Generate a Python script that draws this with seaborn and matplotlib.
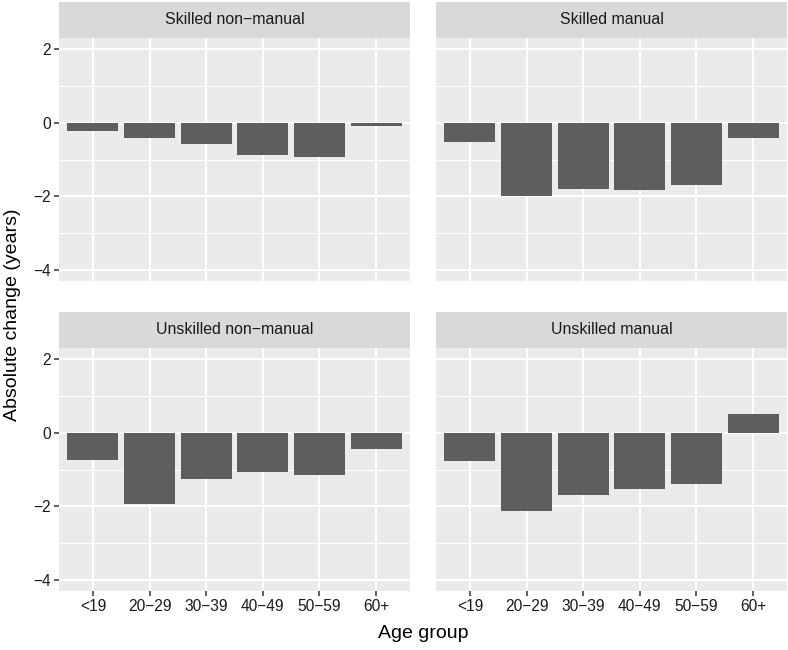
import pandas as pd
import matplotlib
matplotlib.use("Agg")
import matplotlib.pyplot as plt
from matplotlib.patches import Rectangle
import seaborn as sns

# values
age_groups = ["<19", "20\u221229", "30\u221239", "40\u221249", "50\u221259", "60+"]
classes = ["Skilled non\u2212manual", "Skilled manual",
           "Unskilled non\u2212manual", "Unskilled manual"]
skilled_nonmanual = [-0.22, -0.41, -0.59, -0.89, -0.93, -0.08]
skilled_manual = [-0.52, -1.98, -1.81, -1.83, -1.69, -0.41]
unskilled_nonmanual = [-0.75, -1.94, -1.26, -1.08, -1.14, -0.43]
unskilled_manual = [-0.77, -2.14, -1.68, -1.54, -1.39, 0.51]

series = [skilled_nonmanual, skilled_manual, unskilled_nonmanual, unskilled_manual]
rows = []
for cls, vals in zip(classes, series):
    for age, v in zip(age_groups, vals):
        rows.append({"class": cls, "age": age, "change": v})
df = pd.DataFrame(rows)

sns.set_theme(style="white")
plt.rcParams["font.family"] = ["Liberation Sans", "DejaVu Sans"]

W, H = 788, 650
fig = plt.figure(figsize=(W / 100, H / 100), dpi=100)

# panel boxes in pixels: (left, top, width, height)
panel_w, panel_h = 351, 243
lefts = [59, 436]
tops = [38, 348]
strip_h = 36.5

bar_color = "#5e5e5e"
tick_col = "#333333"

for i, cls in enumerate(classes):
    r, c = divmod(i, 2)
    l, t = lefts[c], tops[r]
    ax = fig.add_axes([l / W, (H - t - panel_h) / H, panel_w / W, panel_h / H])
    ax.set_facecolor("#EBEBEB")
    sub = df[df["class"] == cls]
    sns.barplot(data=sub, x="age", y="change", order=age_groups, color=bar_color,
                saturation=1, width=0.9, errorbar=None, linewidth=0, ax=ax)
    ax.set_xlim(-0.6, 5.6)
    ax.set_ylim(-4.3, 2.3)
    ax.set_yticks([-4, -2, 0, 2])
    ax.set_yticks([-3, -1, 1], minor=True)
    ax.set_axisbelow(True)
    ax.grid(True, which="major", color="white", linewidth=1.5)
    ax.grid(True, which="minor", axis="y", color="white", linewidth=0.8)
    for s in ax.spines.values():
        s.set_visible(False)
    ax.set_xlabel("")
    ax.set_ylabel("")
    ax.tick_params(which="minor", length=0)
    ax.tick_params(which="major", bottom=True, left=True, length=3.5, width=1.1,
                   color=tick_col, labelsize=11.2, labelcolor="#1a1a1a", pad=2)
    ax.set_yticklabels(["\u22124", "\u22122", "0", "2"])
    if c == 1:
        ax.tick_params(axis="y", left=False, labelleft=False)
    if r == 0:
        ax.tick_params(axis="x", bottom=False, labelbottom=False)

    # facet strip
    sh = strip_h / panel_h
    ax.add_patch(Rectangle((0, 1), 1, sh, transform=ax.transAxes,
                           facecolor="#D9D9D9", edgecolor="none", clip_on=False))
    ax.text(0.5, 1 + sh / 2, cls, transform=ax.transAxes, ha="center", va="center",
            fontsize=11.4, color="#1a1a1a")

fig.text((59 + 787) / 2 / W, 1 - 634 / H, "Age group", ha="center", va="center",
         fontsize=14, color="black")
fig.text(13 / W, 1 - 315 / H, "Absolute change (years)", ha="center", va="center",
         rotation=90, fontsize=14, color="black")

fig.savefig("out.png", dpi=100)
